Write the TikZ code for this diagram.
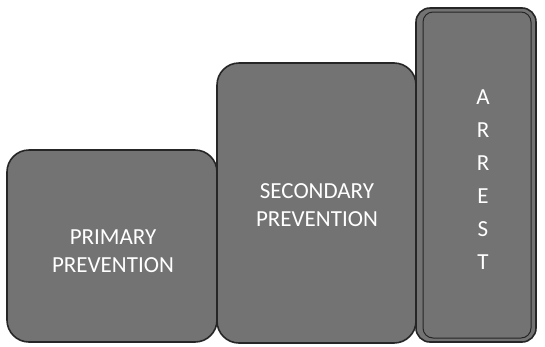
\documentclass[tikz,border=0pt]{standalone}
\usepackage{fontspec}
\setmainfont{Carlito}
\begin{document}
\begin{tikzpicture}[x=1pt,y=-1pt,
  panel/.style={draw=black!85, line width=1.6pt, fill=black!55, rounded corners=22pt, inner sep=0pt},
  label/.style={text=white, font=\fontsize{23}{28}\selectfont, align=center, inner sep=0pt},
  letter/.style={text=white, font=\fontsize{23}{28}\selectfont, inner sep=0pt}]
\useasboundingbox (0,0) rectangle (545,346);
\fill[white] (0,0) rectangle (545,346);
\node[panel, minimum width=210pt, minimum height=192pt] (primary) at (112,246) {};
\node[panel, minimum width=199pt, minimum height=280pt] (secondary) at (316.5,203) {};
\node[panel, minimum width=120pt, minimum height=334pt, rounded corners=14pt] (arrest) at (476,175) {};
\node[draw=black!85, line width=1pt, rounded corners=10pt, minimum width=108pt, minimum height=326pt, inner sep=0pt] (arrestin) at (477,175) {};
\node[label] (ptext) at (113,251) {PRIMARY\\PREVENTION};
\node[label] (stext) at (317,205) {SECONDARY\\PREVENTION};
\node[letter] (a1) at (483,97) {A};
\node[letter] (a2) at (483,130) {R};
\node[letter] (a3) at (483,163) {R};
\node[letter] (a4) at (483,196) {E};
\node[letter] (a5) at (483,229) {S};
\node[letter] (a6) at (483,262) {T};
\end{tikzpicture}
\end{document}
